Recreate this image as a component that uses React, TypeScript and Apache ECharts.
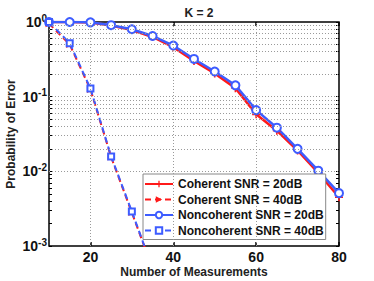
import React, { useEffect, useRef } from "react";
import * as echarts from "echarts";

const measurements = [10, 15, 20, 25, 30, 35, 40, 45, 50, 55, 60, 65, 70, 75, 80];
const coherent20 = [1, 1, 0.985, 0.9, 0.78, 0.63, 0.46, 0.3, 0.205, 0.13, 0.058, 0.035, 0.019, 0.0095, 0.0045];
const noncoherent20 = [1, 1, 0.99, 0.906, 0.8, 0.65, 0.484, 0.32, 0.217, 0.142, 0.066, 0.0384, 0.02, 0.0102, 0.0051];
const measurements40 = [10, 15, 20, 25, 30, 35];
const coherent40 = [0.95, 0.5, 0.125, 0.0155, 0.0028, 0.0005];
const noncoherent40 = [1, 0.52, 0.129, 0.0158, 0.0029, 0.0005];
const xTicks = [20, 40, 60, 80];
const xGrid = [20, 40, 60];
const yGrid = [
  0.002, 0.003, 0.004, 0.005, 0.006, 0.007, 0.008, 0.009, 0.01,
  0.02, 0.03, 0.04, 0.05, 0.06, 0.07, 0.08, 0.09, 0.1,
  0.2, 0.3, 0.4, 0.5, 0.6, 0.7, 0.8, 0.9,
];
const yTicks = [0.001, 0.01, 0.1, 1];
const yMinorTicks = [0.001, ...yGrid, 1];

const RED = "#ff1a1a";
const BLUE = "#3d5cff";
const FONT = "Liberation Sans, Arial, Helvetica, sans-serif";
const PLUS = "path://M4,0H6V4H10V6H6V10H4V6H0V4H4Z";

const pairs = (xs: number[], ys: number[]) => xs.map((x, i) => [x, ys[i]]);

export default function App() {
  const ref = useRef<HTMLDivElement>(null);
  useEffect(() => {
    if (!ref.current) return;
    const chart = echarts.init(ref.current, undefined, { renderer: "svg" });
    const supLabel = (v: number) => {
      const e = Math.round(Math.log10(v));
      return "{b|10}{s|" + (e === 0 ? "0" : "-" + String(-e)) + "}";
    };
    const gridLine = { color: "#9a9a9a", width: 1, type: [1, 2] as any };
    chart.setOption({
      animation: false,
      title: {
        text: "K = 2",
        left: 194,
        top: 2,
        textAlign: "center",
        textStyle: { fontFamily: FONT, fontSize: 12, fontWeight: "bold", color: "#222" },
      },
      grid: {
        left: 49,
        right: 35,
        top: 22,
        bottom: 35,
        show: true,
        borderColor: "#000",
        borderWidth: 1.5,
        backgroundColor: "#fff",
        outerBoundsMode: "none",
        containLabel: false,
      },
      legend: {
        orient: "vertical",
        left: 143,
        top: 174,
        itemWidth: 28,
        itemHeight: 8,
        itemGap: 3.5,
        padding: [4, 2, 3, 1],
        backgroundColor: "#fff",
        borderColor: "#888",
        borderWidth: 1,
        textStyle: { fontFamily: FONT, fontSize: 12, fontWeight: "bold", color: "#111" },
        data: ["Coherent SNR = 20dB", "Coherent SNR = 40dB", "Noncoherent SNR = 20dB", "Noncoherent SNR = 40dB"],
      },
      xAxis: [
        {
          type: "value",
          min: 10,
          max: 80,
          interval: 10,
          name: "Number of Measurements",
          nameLocation: "middle",
          nameGap: 20,
          nameMoveOverlap: false,
          nameTextStyle: { fontFamily: FONT, fontSize: 12, fontWeight: "bold", color: "#222" },
          axisLine: { show: false },
          splitLine: { show: false },
          axisTick: { inside: true, length: 4, lineStyle: { color: "#000", width: 1.5 }, customValues: xTicks },
          axisLabel: {
            customValues: xTicks,
            fontFamily: FONT,
            fontSize: 14,
            fontWeight: "bold",
            color: "#111",
            margin: 4,
          },
        },
        {
          type: "value",
          min: 10,
          max: 80,
          interval: 10,
          position: "top",
          axisLine: { show: false },
          splitLine: { show: false },
          axisTick: { inside: true, length: 4, lineStyle: { color: "#000", width: 1.5 }, customValues: xTicks },
          axisLabel: { show: false },
        },
      ],
      yAxis: [
        {
          type: "log",
          logBase: 10,
          min: 0.001,
          max: 1,
          name: "Probability of Error",
          nameLocation: "middle",
          nameGap: 32,
          nameMoveOverlap: false,
          nameTextStyle: { fontFamily: FONT, fontSize: 12, fontWeight: "bold", color: "#222" },
          axisLine: { show: false },
          splitLine: { show: false },
          axisTick: { inside: true, length: 3, lineStyle: { color: "#000", width: 1 }, customValues: yMinorTicks },
          axisLabel: {
            customValues: yTicks,
            formatter: (v: number) => supLabel(v),
            margin: 2,
            rich: {
              b: { fontFamily: FONT, fontSize: 14, fontWeight: "bold", color: "#111" },
              s: { fontFamily: FONT, fontSize: 10, fontWeight: "bold", color: "#111", verticalAlign: "bottom", padding: [0, 0, 8, 0] },
            },
          },
        },
        {
          type: "log",
          logBase: 10,
          min: 0.001,
          max: 1,
          position: "right",
          axisLine: { show: false },
          splitLine: { show: false },
          axisTick: { inside: true, length: 3, lineStyle: { color: "#000", width: 1 }, customValues: yMinorTicks },
          axisLabel: { show: false },
        },
      ],
      series: [
        {
          name: "grid",
          type: "line",
          data: [],
          silent: true,
          markLine: {
            silent: true,
            symbol: "none",
            label: { show: false },
            lineStyle: gridLine,
            data: [...xGrid.map((x) => ({ xAxis: x })), ...yGrid.map((y) => ({ yAxis: y }))],
          },
        },
        {
          name: "Coherent SNR = 20dB",
          type: "line",
          data: pairs(measurements, coherent20),
          color: RED,
          symbol: PLUS,
          symbolSize: 8,
          lineStyle: { width: 2.5, color: RED },
          itemStyle: { color: RED },
        },
        {
          name: "Coherent SNR = 40dB",
          type: "line",
          data: pairs(measurements40, coherent40),
          color: RED,
          symbol: "triangle",
          symbolRotate: -90,
          symbolSize: 7,
          lineStyle: { width: 2, color: RED, type: [6, 4] },
          itemStyle: { color: RED },
        },
        {
          name: "Noncoherent SNR = 20dB",
          type: "line",
          data: pairs(measurements, noncoherent20),
          color: BLUE,
          symbol: "emptyCircle",
          symbolSize: 8,
          lineStyle: { width: 2.5, color: BLUE },
          itemStyle: { color: BLUE, borderWidth: 2 },
        },
        {
          name: "Noncoherent SNR = 40dB",
          type: "line",
          data: pairs(measurements40, noncoherent40),
          color: BLUE,
          symbol: "emptyRect",
          symbolSize: 6,
          lineStyle: { width: 2, color: BLUE, type: [6, 4] },
          itemStyle: { color: BLUE, borderWidth: 1.5 },
        },
      ],
    });
    return () => chart.dispose();
  }, []);
  return <div ref={ref} style={{ width: 374, height: 281, position: "absolute", left: 0, top: 0 }} />;
}
